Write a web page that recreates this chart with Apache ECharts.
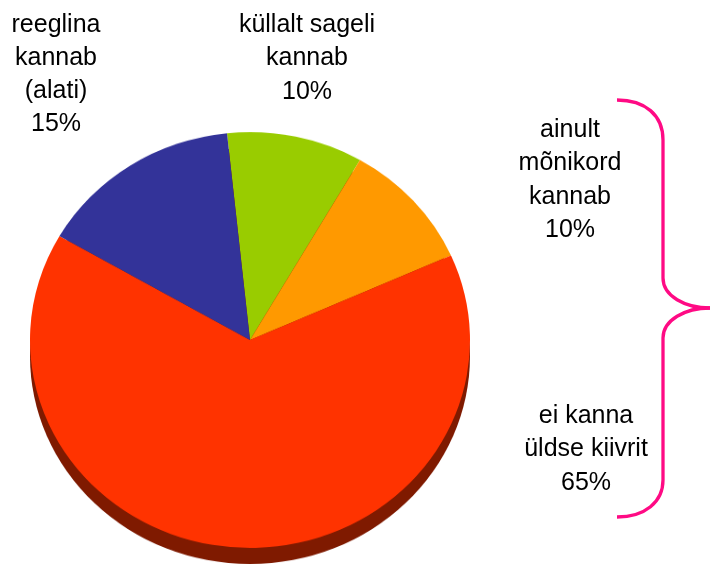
<!DOCTYPE html>
<html>
<head>
<meta charset="utf-8">
<script src="https://cdn.jsdelivr.net/npm/echarts@6/dist/echarts.min.js"></script>
<style>
  html, body { margin: 0; padding: 0; background: #fff; }
  .wrap { position: relative; width: 711px; height: 566px; overflow: hidden; }
  #pie { position: absolute; left: 0; top: 0; width: 711px; height: 620px;
         transform-origin: 250px 340px; transform: scaleY(0.945); }
  #labels { position: absolute; left: 0; top: 0; width: 711px; height: 566px; }
</style>
</head>
<body>
<div class="wrap">
  <div id="pie"></div>
  <div id="labels"></div>
</div>
<script>
  // slices, clockwise from the green one
  var names = ['küllalt sageli kannab', 'ainult mõnikord kannab', 'ei kanna üldse kiivrit', 'reeglina kannab (alati)'];
  var values = [10, 10, 65, 15];
  var labelLines = [
    ['küllalt sageli', 'kannab'],
    ['ainult', 'mõnikord', 'kannab'],
    ['ei kanna', 'üldse kiivrit'],
    ['reeglina', 'kannab', '(alati)']
  ];
  var colors = ['#99cc00', '#ff9900', '#ff3300', '#333399'];

  // where each label block sits: center x, middle of first line, line step
  var labelPos = [
    [307, 25, 33.5],
    [570, 130, 33.5],
    [586, 416, 33.5],
    [56, 25, 33]
  ];

  var pieChart = echarts.init(document.getElementById('pie'));
  var pieData = [];
  for (var i = 0; i < values.length; i++) {
    pieData.push({ name: names[i], value: values[i], itemStyle: { color: colors[i] } });
  }
  pieChart.setOption({
    animation: false,
    series: [
      {
        // side wall of the tilted pie
        type: 'pie',
        silent: true,
        center: [250, 357],
        radius: 220,
        label: { show: false },
        labelLine: { show: false },
        itemStyle: { color: '#7f1a00', borderWidth: 0 },
        data: [{ name: 'wall', value: 1 }]
      },
      {
        type: 'pie',
        silent: true,
        center: [250, 340],
        radius: 220,
        startAngle: 96,
        clockwise: true,
        label: { show: false },
        labelLine: { show: false },
        itemStyle: { borderWidth: 0 },
        data: pieData
      }
    ]
  });

  var labelChart = echarts.init(document.getElementById('labels'));
  var elements = [];
  for (var k = 0; k < values.length; k++) {
    var lines = labelLines[k].concat([values[k] + '%']);
    for (var j = 0; j < lines.length; j++) {
      elements.push({
        type: 'text',
        silent: true,
        style: {
          text: lines[j],
          x: labelPos[k][0],
          y: labelPos[k][1] + j * labelPos[k][2],
          align: 'center',
          verticalAlign: 'middle',
          fill: '#000',
          font: '25px "Liberation Sans", Arial, sans-serif'
        }
      });
    }
  }
  // the curly brace grouping the two right labels
  var braceStyle = { fill: 'none', stroke: '#ff0a84', lineWidth: 3.3 };
  var curves = [
    [617, 100, 663, 140, 645, 100, 663, 115],
    [663, 278, 710, 308, 663, 296, 685, 308],
    [710, 308, 663, 338, 685, 308, 663, 320],
    [663, 480, 617, 517, 663, 502, 645, 517]
  ];
  curves.forEach(function (c) {
    elements.push({
      type: 'bezierCurve', silent: true,
      shape: { x1: c[0], y1: c[1], x2: c[2], y2: c[3], cpx1: c[4], cpy1: c[5], cpx2: c[6], cpy2: c[7] },
      style: braceStyle
    });
  });
  elements.push({ type: 'line', silent: true, shape: { x1: 663, y1: 140, x2: 663, y2: 278 }, style: braceStyle });
  elements.push({ type: 'line', silent: true, shape: { x1: 663, y1: 338, x2: 663, y2: 480 }, style: braceStyle });
  labelChart.setOption({
    animation: false,
    graphic: { elements: elements }
  });
</script>
</body>
</html>
